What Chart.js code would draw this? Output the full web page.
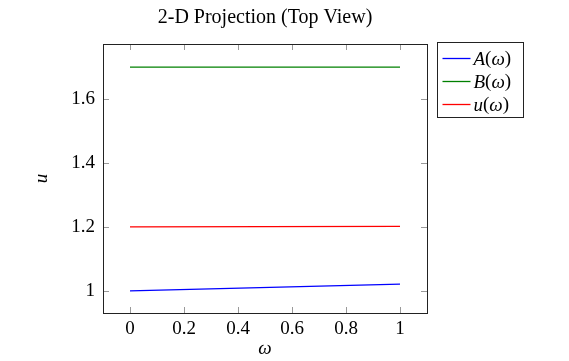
<!DOCTYPE html>
<html>
<head>
<meta charset="utf-8">
<script src="https://cdn.jsdelivr.net/npm/chart.js@4"></script>
<style>
  html, body { margin: 0; padding: 0; background: #fff; }
  #wrap { width: 569px; height: 361px; position: relative; }
</style>
</head>
<body>
<div id="wrap"><canvas id="chart"></canvas></div>
<script>
// data
const omega = [0, 1];
const aValues = [1.0, 1.021];
const bValues = [1.7, 1.7];
const uValues = [1.2, 1.202];

const xTicks = [0, 0.2, 0.4, 0.6, 0.8, 1];
const yTicks = [1, 1.2, 1.4, 1.6];

const chartTitle = '2-D Projection (Top View)';
const seriesNames = [['A', '(', 'ω', ')'], ['B', '(', 'ω', ')'], ['u', '(', 'ω', ')']];
const seriesColors = ['#0000ff', '#008000', '#ff0000'];

const SERIF = '"Liberation Serif", "DejaVu Serif", serif';
const FS = 19;

function points(ys) {
    return omega.map((x, i) => ({ x, y: ys[i] }));
}

// draws something like A(ω) with italic letters and upright brackets
function drawMath(ctx, parts, x, y) {
    parts.forEach((p) => {
        const upright = p === '(' || p === ')';
        ctx.font = (upright ? '' : 'italic ') + FS + 'px ' + SERIF;
        ctx.fillText(p, x, y);
        x += ctx.measureText(p).width;
    });
}

// pgfplots style frame: title over the plot, box, inward ticks on all sides, legend at the right
const framePlugin = {
    id: 'frame',
    afterDatasetsDraw(chart) {
        const { ctx, chartArea: a, scales } = chart;
        const len = 6;
        ctx.save();

        ctx.fillStyle = '#000';
        ctx.textAlign = 'center';
        ctx.textBaseline = 'middle';
        ctx.font = '20px ' + SERIF;
        ctx.fillText(chartTitle, (a.left + a.right) / 2, 18);

        ctx.strokeStyle = '#999';
        ctx.lineWidth = 1;
        ctx.beginPath();
        xTicks.forEach((v) => {
            const px = Math.round(scales.x.getPixelForValue(v)) + 0.5;
            ctx.moveTo(px, a.bottom); ctx.lineTo(px, a.bottom - len);
            ctx.moveTo(px, a.top); ctx.lineTo(px, a.top + len);
        });
        yTicks.forEach((v) => {
            const py = Math.round(scales.y.getPixelForValue(v)) + 0.5;
            ctx.moveTo(a.left, py); ctx.lineTo(a.left + len, py);
            ctx.moveTo(a.right, py); ctx.lineTo(a.right - len, py);
        });
        ctx.stroke();

        ctx.strokeStyle = '#222';
        ctx.strokeRect(Math.round(a.left) + 0.5, Math.round(a.top) + 0.5,
            Math.round(a.right - a.left), Math.round(a.bottom - a.top));

        // legend
        const lx = Math.round(a.right) + 10.5;
        const ly = Math.round(a.top) - 1.5;
        ctx.strokeRect(lx, ly, 86, 75);
        ctx.textAlign = 'left';
        seriesNames.forEach((parts, i) => {
            const y = ly + 16 + i * 23;
            ctx.strokeStyle = seriesColors[i];
            ctx.lineWidth = 1.3;
            ctx.beginPath();
            ctx.moveTo(lx + 5, y); ctx.lineTo(lx + 33, y);
            ctx.stroke();
            drawMath(ctx, parts, lx + 36, y + 1);
        });
        ctx.restore();
    }
};

const tickFont = { family: SERIF, size: FS };

new Chart(document.getElementById('chart'), {
    type: 'line',
    data: {
        datasets: [
            { label: 'A(ω)', data: points(aValues), borderColor: seriesColors[0] },
            { label: 'B(ω)', data: points(bValues), borderColor: seriesColors[1] },
            { label: 'u(ω)', data: points(uValues), borderColor: seriesColors[2] },
        ].map((d) => ({ ...d, borderWidth: 1.3, pointRadius: 0, tension: 0, fill: false })),
    },
    options: {
        animation: false,
        responsive: true,
        maintainAspectRatio: false,
        layout: { padding: { left: 0, right: 142, top: 44, bottom: 0 } },
        plugins: {
            legend: { display: false },
            tooltip: { enabled: false },
        },
        scales: {
            x: {
                type: 'linear',
                min: -0.1,
                max: 1.1,
                afterBuildTicks: (s) => { s.ticks = xTicks.map((v) => ({ value: v })); },
                afterFit: (s) => { s.height = 48; },
                grid: { display: false, drawTicks: false },
                border: { display: false },
                ticks: { color: '#000', padding: 5, maxRotation: 0, font: tickFont, callback: (v) => String(v) },
                title: {
                    display: true, text: 'ω', color: '#000',
                    font: { family: SERIF, size: FS, style: 'italic' },
                    padding: { top: 0, bottom: 1 },
                },
            },
            y: {
                min: 0.931,
                max: 1.772,
                afterBuildTicks: (s) => { s.ticks = yTicks.map((v) => ({ value: v })); },
                afterFit: (s) => { s.width = 103; },
                grid: { display: false, drawTicks: false },
                border: { display: false },
                ticks: { color: '#000', padding: 8, font: tickFont, callback: (v) => String(v) },
                title: {
                    display: true, text: 'u', color: '#000',
                    font: { family: SERIF, size: FS, style: 'italic' },
                    padding: { top: 31, bottom: 0 },
                },
            },
        },
    },
    plugins: [framePlugin],
});
</script>
</body>
</html>
